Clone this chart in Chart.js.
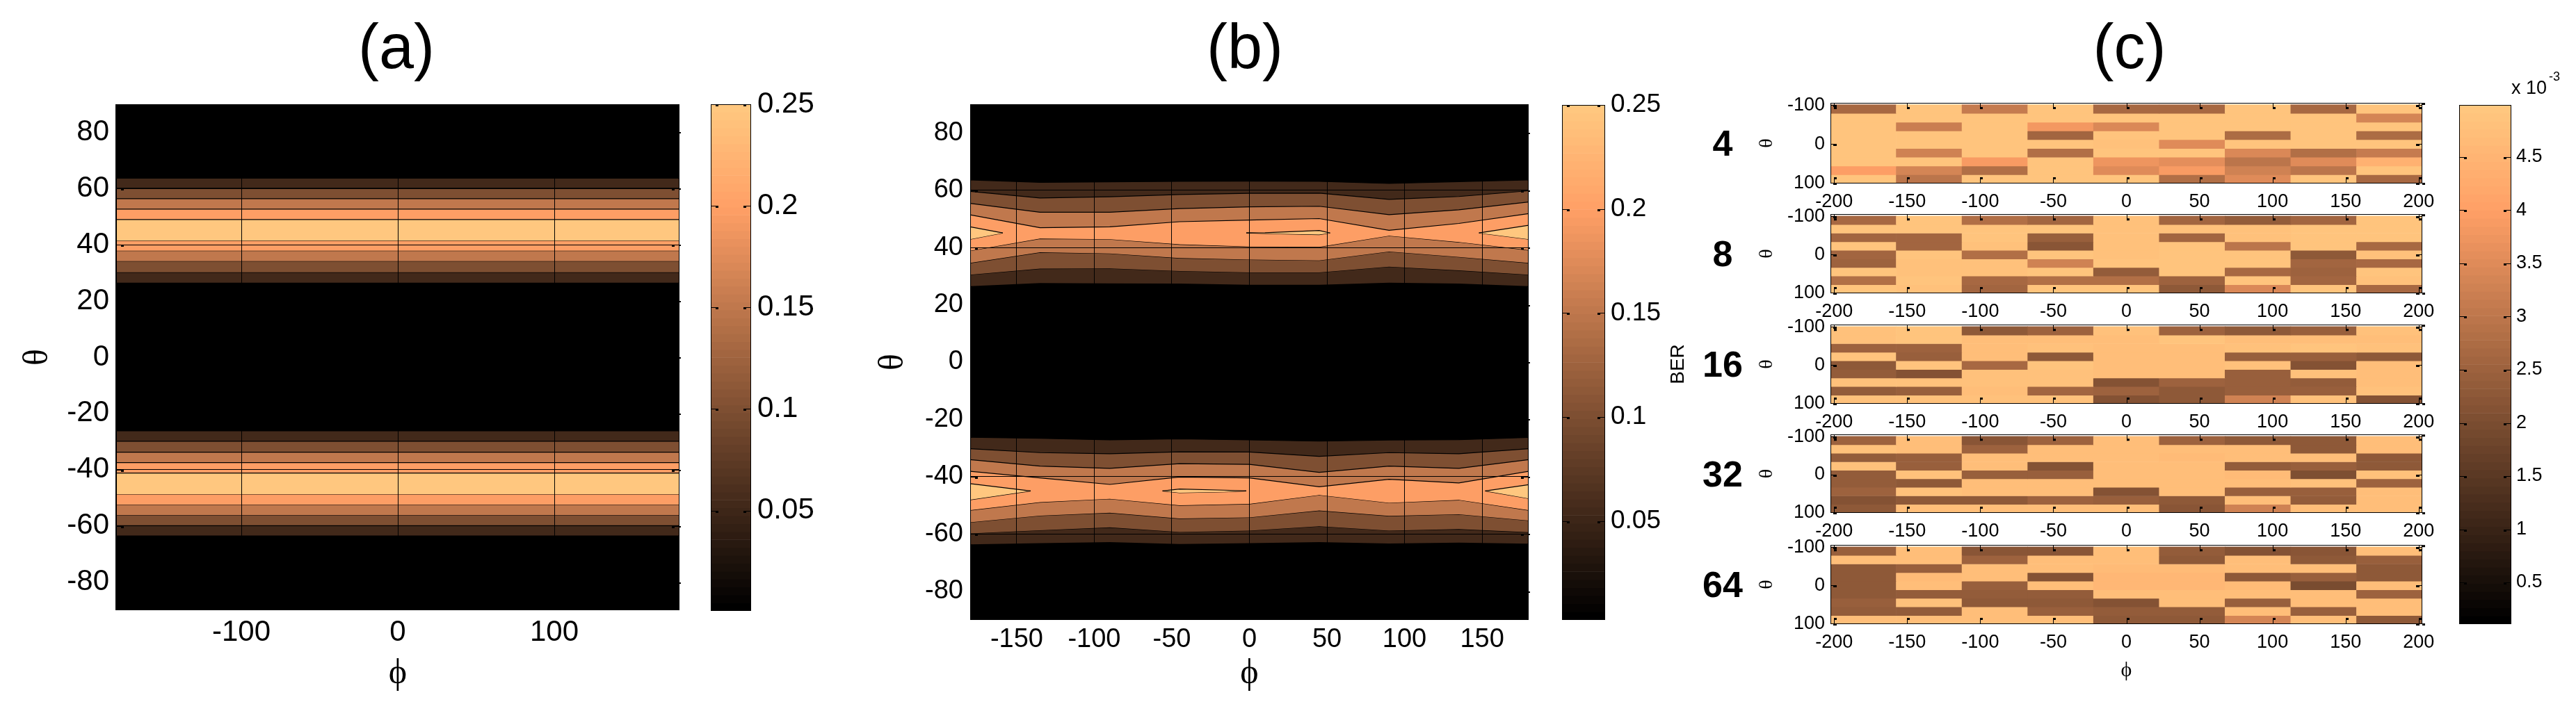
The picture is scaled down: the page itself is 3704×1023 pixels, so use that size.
<!DOCTYPE html>
<html><head><meta charset="utf-8">
<script src="https://cdn.jsdelivr.net/npm/chart.js@4"></script>
<style>html,body{margin:0;padding:0;background:#fff;width:3704px;height:1023px;overflow:hidden}canvas{position:absolute;display:block}</style>
</head><body>
<script>
// ---------- data ----------
const panelTitles = ['(a)','(b)','(c)'];
const bandLevels = [0.05,0.1,0.15,0.2,0.25];
const xTicksA = [-100,0,100];
const xTicksB = [-150,-100,-50,0,50,100,150];
const yTicksAB = [-80,-60,-40,-20,0,20,40,60,80];
const xTicksC = [-200,-150,-100,-50,0,50,100,150,200];
const yTicksC = [-100,0,100];
const cbTicksAB = [0.05,0.1,0.15,0.2,0.25];
const cbTicksC = [0.5,1,1.5,2,2.5,3,3.5,4,4.5];
const modulationOrders = ['4','8','16','32','64'];

// (a) contour boundaries, one [top,bottom] pair per level
const phiA = [-180,180];
const aUpperTop = [63.7,60.1,56.4,52.7,49];
const aUpperBot = [26.5,30.2,34.2,37.9,41.5];
const aLowerTop = [-26.2,-29.9,-33.8,-37.5,-41.2];
const aLowerBot = [-63.4,-59.8,-56.1,-52.4,-48.7];

// (b) contour boundaries read at each phi node
const phiB = [-180,-135,-90,-45,0,45,90,135,180];
const bUpperTop = [
 [63.6,62.75,62.9,63.1,63.15,63.1,62.35,63,63.6],
 [59.6,57.3,57.7,58.5,58.9,59,56.8,57.8,59.8],
 [55.4,52.3,52.3,53.6,54.2,54.4,51.45,53.15,55.9],
 [51.4,46.9,47.2,49,49.6,50.1,46,48.4,51.8]];
const bUpperBot = [
 [26.5,27.6,27.5,27.4,27,27,27.7,27.4,26.5],
 [30.5,32.6,32.7,31.8,31.3,31.3,33.3,32,30.5],
 [34.6,38.3,37.9,36.3,35.8,35.5,38.6,36.7,34.6],
 [38.9,43.1,42.9,41.1,40.3,40.2,44.1,41.9,39.1]];
const bLowerTop = [
 [-26.26,-26.6,-27.15,-26.8,-27.15,-27.6,-27.2,-27.1,-26.3],
 [-30.24,-31.6,-32,-31.3,-31.4,-32.9,-31.6,-32,-30.24],
 [-34.07,-36.3,-37.1,-35.45,-35.7,-38.5,-36.3,-37.1,-34.07],
 [-38.1,-40.4,-42.7,-40.1,-40.4,-43.5,-40.9,-42.2,-38.1]];
const bLowerBot = [
 [-63.6,-63.2,-62.85,-63.5,-63.2,-62.85,-63.3,-63,-63.4],
 [-59.8,-58.7,-57.7,-59.3,-58.8,-57.3,-58.8,-58.3,-59.4],
 [-55.9,-53.6,-52.6,-54.6,-54.2,-51.8,-53.7,-53.1,-55.3],
 [-51.7,-48.9,-47.7,-50,-49.5,-46.4,-49.1,-48.1,-51.7]];
// (b) top-level islands: [phi nodes, upper edge, lower edge]
const bIslands = [
 [[-180,-159],[47.2,45.07],[42.9,45.07]],
 [[148,180],[45.07,47.75],[45.07,42.9]],
 [[-2,10,45,52],[45.07,45.15,45.96,45.07],[45.07,44.9,44.5,45.07]],
 [[-180,-141],[-42.44,-44.96],[-48.05,-44.96]],
 [[152,180],[-44.96,-42.8],[-44.96,-47.6]],
 [[-56,-45,-16,-2],[-44.96,-44.3,-44.7,-44.96],[-44.96,-45.6,-45.3,-44.96]]];

// (c) BER x 10^-3, rows are theta, columns are phi
const phiC = [-180,-135,-90,-45,0,45,90,135,180];
const thetaC = [-90,-67.5,-45,-22.5,0,22.5,45,67.5,90];
const ber4 = [
 [2.65,4.95,3.1,4.95,2.65,2.7,4.95,2.7,4.95],
 [4.93,4.95,4.95,4.95,4.95,4.95,4.95,4.95,3.4],
 [4.9,3.2,4.95,3.85,3.45,4.95,4.95,4.95,4.93],
 [4.93,4.93,4.95,2.6,4.95,4.95,2.75,4.95,2.75],
 [4.95,4.95,4.95,4.93,4.85,3.5,4.9,4.93,4.93],
 [4.93,3.25,4.95,2.8,4.9,4.9,3.45,2.8,3.15],
 [4.93,4.93,3.9,4.95,3.75,3.6,3,3.5,4.45],
 [3.95,3.4,2.85,4.95,3.5,3.9,3.3,3,4.9],
 [4.93,2.95,4.93,4.93,4.93,2.8,3.5,4.93,2.65]];
const ber8 = [
 [2.7,4.93,2.85,2.55,4.8,2.6,2.35,2.6,4.9],
 [4.9,4.93,4.9,4.9,4.85,4.87,4.84,4.9,4.9],
 [2.55,2.55,4.93,2.4,4.84,2.55,4.84,4.93,4.93],
 [4.93,2.55,4.8,2.2,4.8,4.93,2.95,4.93,2.7],
 [2.6,4.93,2.85,4.93,4.85,4.9,4.9,2.3,4.87],
 [2.5,4.82,4.87,3.25,4.93,4.9,4.93,2.6,2.7],
 [4.93,4.82,4.87,4.9,2.35,4.9,2.65,2.5,4.9],
 [2.8,4.9,2.65,2.85,2.85,2.5,4.93,2.55,4.87],
 [4.93,4.87,2.6,4.9,4.9,2.3,3.45,4.93,2.65]];
const ber16 = [
 [4.8,4.9,2.25,2.5,4.8,2.5,2.3,2.45,4.8],
 [4.84,4.9,4.76,4.76,4.76,4.93,4.76,4.76,4.76],
 [2.5,2.5,4.76,4.8,4.76,4.76,4.8,4.93,4.8],
 [4.93,2.45,4.76,2.25,4.76,4.76,2.45,2.45,2.3],
 [2.3,4.93,2.7,4.9,4.76,4.76,4.8,2.1,4.76],
 [2.35,2.1,4.8,4.8,4.76,4.76,2.45,4.87,4.76],
 [4.87,4.87,4.8,4.8,2.15,2.5,2.45,2.35,4.76],
 [2.35,2.45,4.76,2.6,2.5,2.3,2.45,2.45,4.84],
 [4.84,4.84,4.8,4.87,2.1,2.3,3.3,4.87,2.15]];
const ber32 = [
 [2.5,4.76,2.2,2.5,4.72,2.5,2.3,2.3,4.76],
 [4.8,4.76,2.5,4.76,4.76,4.76,4.76,2.3,4.76],
 [2.35,2.45,4.76,4.76,4.72,4.68,4.72,4.76,2.25],
 [4.87,2.45,4.72,2.15,4.72,4.72,2.35,2.45,2.25],
 [2.35,4.8,2.4,2.4,4.72,4.72,4.68,2.05,4.8],
 [2.35,2.3,4.76,4.72,4.76,4.76,4.76,4.8,2.5],
 [2.5,4.8,4.76,4.76,2.1,4.76,2.45,2.4,4.76],
 [2.15,2.3,2.3,2.5,2.45,2.3,4.76,2.35,4.76],
 [2.3,4.72,4.72,4.72,4.72,2.2,3.25,4.72,4.72]];
const ber64 = [
 [2.4,4.76,2.2,2.2,4.72,2.35,2.15,2.2,4.76],
 [4.72,4.72,2.5,4.76,4.76,2.3,4.76,2.3,2.4],
 [2.3,2.4,4.76,4.72,4.68,4.68,4.72,4.76,2.25],
 [2.3,4.68,4.72,2.1,4.64,4.64,2.3,2.4,2.25],
 [2.3,4.76,2.4,4.72,4.64,4.64,4.68,2,4.72],
 [2.25,2.35,2.35,2.35,4.76,4.76,4.72,4.76,2.5],
 [2.45,4.8,2.3,2.3,2.1,4.72,2.45,4.76,4.72],
 [2.35,2.35,4.72,2.45,2.35,2.35,4.72,2.4,4.72],
 [4.72,4.72,4.72,4.72,2.3,2.3,3.4,4.72,2.25]];
const berC = [ber4,ber8,ber16,ber32,ber64];

// ---------- helpers ----------
const SANS='"Liberation Sans",Arial,sans-serif', SERIF='"Liberation Serif","Times New Roman",serif';
function copper(t){t=Math.max(0,Math.min(1,t));t=Math.round(t*63)/63;
 return `rgb(${Math.round(255*Math.min(1,1.25*t))},${Math.round(255*.7812*t)},${Math.round(255*.4975*t)})`;}
function band(xs,top,bot,color){
 const line={type:'line',borderColor:'#000',borderWidth:1.2,pointRadius:0,tension:0,parsing:{xAxisKey:'x',yAxisKey:'y'}};
 const at=ys=>xs.map((x,i)=>({x,y:ys[i]}));
 return [{...line,data:at(top),fill:'+1',backgroundColor:color},{...line,data:at(bot),fill:false}];
}
// MATLAB-style box and inward tick marks, each tick ending in a small blob
const framePlugin={id:'frame',afterDatasetsDraw(c,a,o){
 const {left:l,right:r,top:t,bottom:b}=c.chartArea,x=c.ctx,L=o.len||0,H=o.hblob||[0,0],V=o.vblob||[0,0];
 x.save();x.fillStyle='#000';x.strokeStyle='#000';x.lineWidth=1;
 x.strokeRect(Math.round(l)+.5,Math.round(t)+.5,Math.round(r-l)-1,Math.round(b-t)-1);
 if(o.leftBar)x.fillRect(l-1,t,o.leftBar,b-t);
 if(L){
  if(c.scales.x&&c.scales.x.options.display!==false&&V[0])c.scales.x.ticks.forEach(k=>{const p=Math.round(c.scales.x.getPixelForValue(k.value));
   x.fillRect(p,t,1,L);x.fillRect(p,b-L,1,L);
   x.fillRect(p,t+L-V[1],V[0],V[1]);x.fillRect(p,b-L,V[0],V[1]);});
  c.scales.y.ticks.forEach(k=>{const p=Math.round(c.scales.y.getPixelForValue(k.value));
   x.fillRect(l,p,L,1);x.fillRect(r-L,p,L,1);
   x.fillRect(l+L-H[0],p,H[0],H[1]);x.fillRect(r-L,p,H[0],H[1]);
   if(o.nub)x.fillRect(r,p,o.nub,2);});
  if(o.corners){x.fillRect(r,t,4,3);x.fillRect(r,b-1,4,3);}
 }
 x.restore();}};
const textPlugin={id:'texts',afterDraw(c,a,o){
 const x=c.ctx;(o.items||[]).forEach(i=>{x.save();x.fillStyle='#000';x.font=i.font;x.textAlign=i.align||'center';x.textBaseline=i.base||'middle';
  x.translate(i.x,i.y);if(i.rot)x.rotate(i.rot);x.fillText(i.text,0,0);x.restore();});}};
// the title box is centred where the reference centres its title, not on the plot
const titleAtPlugin={id:'titleAt',beforeDraw(c,a,o){const t=c.titleBlock;if(t&&o.x!==undefined){t.left=o.x-150;t.right=o.x+150;}}};
function mount(rect){const cv=document.createElement('canvas');cv.width=rect.w;cv.height=rect.h;
 cv.style.left=rect.x+'px';cv.style.top=rect.y+'px';cv.style.width=rect.w+'px';cv.style.height=rect.h+'px';document.body.appendChild(cv);return cv;}
function fixedTicks(arr){return s=>{s.ticks=arr.map(v=>({value:v}));};}
const common={responsive:false,animation:false,devicePixelRatio:1,events:[]};
const TITLE_SIZE=90;
function titleOpts(text,top){return {display:true,text,fullSize:true,color:'#000',font:{family:SANS,size:TITLE_SIZE,lineHeight:1,weight:'normal'},padding:{top:28,bottom:top-28-TITLE_SIZE}};}

function contourPanel(o){
 const {rect,plot}=o, W=plot.l-rect.x, H=rect.y+rect.h-plot.b;
 new Chart(mount(rect),{type:'line',data:{datasets:o.datasets},plugins:[framePlugin,titleAtPlugin],options:{...common,
  layout:{autoPadding:false,padding:{left:0,top:0,bottom:0,right:rect.x+rect.w-plot.r}},
  plugins:{legend:{display:false},tooltip:{enabled:false},filler:{propagate:false},
   frame:{len:11,hblob:[4,3],vblob:[3,3],nub:2,leftBar:o.leftBar||0},titleAt:{x:o.titleX-rect.x},
   title:titleOpts(o.title,plot.t)},
  scales:{
   x:{type:'linear',min:-180,max:180,afterBuildTicks:fixedTicks(o.xTicks),afterFit(s){s.height=H;},
    grid:{color:'#000',lineWidth:1,z:1,drawTicks:false},border:{display:false},
    ticks:{autoSkip:false,maxRotation:0,padding:o.xPad,color:'#000',font:{family:SANS,size:o.fs},callback:v=>String(v)},
    title:{display:true,text:'ϕ',color:'#000',font:{family:SERIF,size:50,lineHeight:1.2},padding:{top:0,bottom:o.phiPad}}},
   y:{type:'linear',min:-90,max:90,afterBuildTicks:fixedTicks(yTicksAB),afterFit(s){s.width=W;},
    grid:{color:'#000',lineWidth:1,z:1,drawTicks:false},border:{display:false},
    ticks:{autoSkip:false,padding:o.yPad,color:'#000',font:{family:SANS,size:o.fs},callback:v=>String(v)},
    title:{display:true,text:'θ',color:'#000',font:{family:SERIF,size:50,lineHeight:1.2},padding:{top:0,bottom:0}}}
  }}});
}
function colorbar(o){
 const {rect,plot}=o, N=64, step=(o.max-o.min)/N, levels=[];
 for(let i=0;i<N;i++)levels.push(o.min+(i+.5)*step);
 const cfg={type:'bar',data:{datasets:[{data:levels.map(v=>({x:1,y:v})),backgroundColor:levels.map(v=>copper((v-o.min)/(o.max-o.min))),borderWidth:0,barPercentage:1,categoryPercentage:1}]},
  plugins:[framePlugin,textPlugin],options:{...common,indexAxis:'y',
  layout:{autoPadding:false,padding:{left:0,top:plot.t-rect.y,bottom:rect.y+rect.h-plot.b,right:0}},
  plugins:{legend:{display:false},tooltip:{enabled:false},frame:{len:11,hblob:[4,3]},texts:{items:o.texts||[]}},
  scales:{
   x:{type:'linear',min:0,max:1,display:false},
   y:{type:'linear',position:'right',offset:false,min:o.min,max:o.max,afterBuildTicks:fixedTicks(o.ticks),afterFit(s){s.width=rect.x+rect.w-plot.r;},
    grid:{display:false,drawTicks:false,offset:false},border:{display:false},
    ticks:{autoSkip:false,padding:o.pad,color:'#000',font:{family:SANS,size:o.fs},callback:v=>String(v)}}
  }}};
 new Chart(mount(rect),cfg);
}
function heatPanel(k){
 const tops=[148,308,467,625,784],bots=[264,422,581,738,898];
 const first=k===0,last=k===4,t=tops[k],b=bots[k];
 const rect={x:2440,w:1244,y:first?0:t-24,h:last?1023-(t-24):(b+60)-(first?0:t-24)};
 const plotL=2632,plotR=3483;
 const datasets=thetaC.map((th,r)=>({grouped:false,barPercentage:1,categoryPercentage:1,borderWidth:0,
  data:phiC.map(ph=>({x:ph,y:[th-11.25,th+11.25]})),
  backgroundColor:berC[k][r].map(v=>copper((v-0.108)/(4.99-0.108)))}));
 const plugins={legend:{display:false},tooltip:{enabled:false},frame:{len:9,hblob:[5,3],vblob:[4,3],corners:true},
  texts:{items:[{text:modulationOrders[k],x:37,y:(t+b)/2-rect.y+4,font:`bold 52px ${SANS}`}]}};
 if(first){plugins.title=titleOpts(panelTitles[2],t);plugins.titleAt={x:3062-rect.x};}
 new Chart(mount(rect),{type:'bar',data:{datasets},plugins:[framePlugin,textPlugin,titleAtPlugin],options:{...common,
  layout:{autoPadding:false,padding:{left:0,top:first?0:t-rect.y,bottom:0,right:rect.x+rect.w-plotR}},plugins,
  scales:{
   x:{type:'linear',offset:false,min:-202.5,max:202.5,afterBuildTicks:fixedTicks(xTicksC),afterFit(s){s.height=rect.y+rect.h-b;},
    grid:{display:false,drawTicks:false,offset:false},border:{display:false},
    ticks:{autoSkip:false,maxRotation:0,padding:10,color:'#000',font:{family:SANS,size:27},callback:v=>String(v)},
    title:{display:last,text:'ϕ',color:'#000',font:{family:SERIF,size:30,lineHeight:1.2},padding:{top:0,bottom:40}}},
   y:{type:'linear',reverse:true,min:-106,max:101.25,afterBuildTicks:fixedTicks(yTicksC),afterFit(s){s.width=plotL-rect.x;},
    grid:{display:false,drawTicks:false},border:{display:false},
    ticks:{autoSkip:false,padding:8,color:'#000',font:{family:SANS,size:27},callback:v=>String(v)},
    title:{display:true,text:'θ',color:'#000',font:{family:SERIF,size:28,lineHeight:1.2},padding:{top:84,bottom:0}}}
  }}});
}

// ---------- panels ----------
const cLvl=bandLevels.map(l=>copper(l/0.25));
function lobesA(){let d=[];
 for(let i=4;i>=0;i--)d=d.concat(band(phiA,[aUpperTop[i],aUpperTop[i]],[aUpperBot[i],aUpperBot[i]],cLvl[i]));
 for(let i=4;i>=0;i--)d=d.concat(band(phiA,[aLowerTop[i],aLowerTop[i]],[aLowerBot[i],aLowerBot[i]],cLvl[i]));
 return d.concat(band(phiA,[90,90],[-90,-90],'#000'));}
function lobesB(){let d=[];
 bIslands.forEach(s=>{d=d.concat(band(s[0],s[1],s[2],cLvl[4]));});
 for(let i=3;i>=0;i--)d=d.concat(band(phiB,bUpperTop[i],bUpperBot[i],cLvl[i]));
 for(let i=3;i>=0;i--)d=d.concat(band(phiB,bLowerTop[i],bLowerBot[i],cLvl[i]));
 return d.concat(band(phiA,[90,90],[-90,-90],'#000'));}

contourPanel({title:panelTitles[0],titleX:570,rect:{x:25,y:0,w:1090,h:1023},plot:{l:167,r:977,t:150,b:878},datasets:lobesA(),xTicks:xTicksA,fs:42,xPad:7,yPad:10,phiPad:23,leftBar:2});
contourPanel({title:panelTitles[1],titleX:1790,rect:{x:1255,y:0,w:1069,h:1023},plot:{l:1395,r:2198,t:150,b:892},datasets:lobesB(),xTicks:xTicksB,fs:38,xPad:6,yPad:10,phiPad:23});
colorbar({rect:{x:1022,y:0,w:220,h:1023},plot:{t:150,b:879,r:1080},min:0.0006,max:0.25,ticks:cbTicksAB,fs:42,pad:9});
colorbar({rect:{x:2246,y:0,w:220,h:1023},plot:{t:151,b:892,r:2308},min:0.0025,max:0.25,ticks:cbTicksAB,fs:37,pad:8,
 texts:[{text:'BER',x:167,y:524,font:`28px ${SANS}`,rot:-Math.PI/2}]});
colorbar({rect:{x:3536,y:0,w:168,h:1023},plot:{t:151,b:898,r:3611},min:0.108,max:4.99,ticks:cbTicksC,fs:27,pad:7,
 texts:[{text:'x 10',x:75,y:128,font:`27px ${SANS}`,align:'left'},{text:'-3',x:129,y:111,font:`18px ${SANS}`,align:'left'}]});
for(let k=0;k<5;k++)heatPanel(k);
</script>
</body></html>
